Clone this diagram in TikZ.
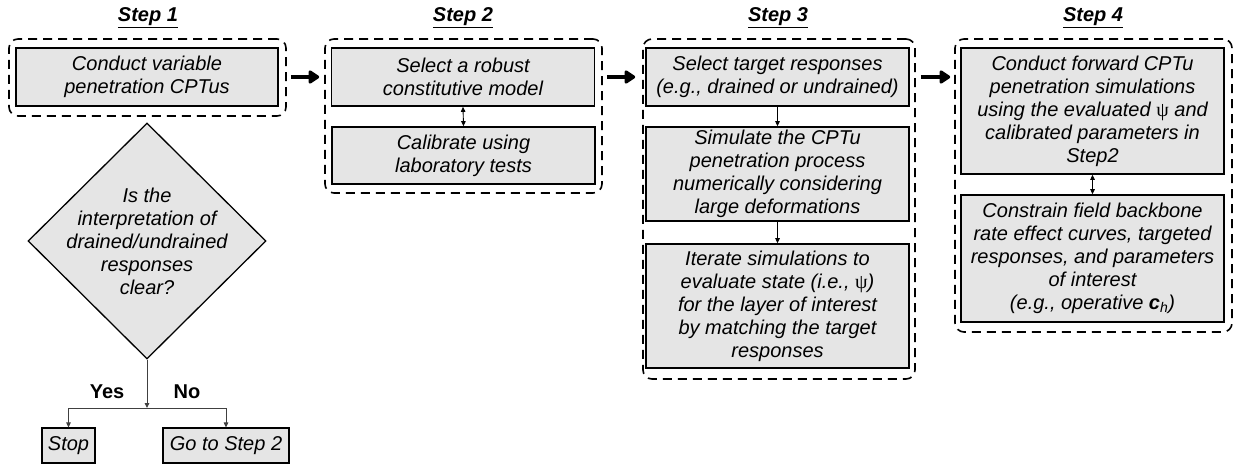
\documentclass[tikz,border=0pt]{standalone}
\usepackage{fontspec}
\setmainfont{Liberation Sans}
\newfontfamily\grk{Liberation Serif}
\usetikzlibrary{arrows.meta,shapes.geometric,calc}
\newcommand{\psisym}{{\grk\upshape ψ}}
\begin{document}
\begin{tikzpicture}[x=1pt,y=-1pt,
  txt/.style={font=\itshape\fontsize{20}{23}\selectfont, align=center},
  stepbox/.style={txt, draw, line width=1.6pt, fill=black!10, inner sep=0pt, minimum width=263pt},
  endbox/.style={txt, draw, line width=1.1pt, fill=black!10, inner sep=0pt, minimum height=35pt},
  frame/.style={draw, dash pattern=on 9pt off 6pt, line width=1.6pt, rounded corners=9pt, inner sep=0pt},
  steptitle/.style={font=\bfseries\itshape\fontsize{20}{23}\selectfont},
  answer/.style={font=\bfseries\fontsize{20}{23}\selectfont},
  flow/.style={draw=black!75, line width=0.9pt, -{Triangle[length=5pt,width=4.5pt]}},
  twoway/.style={line width=0.9pt, {Triangle[length=5pt,width=4.5pt]}-{Triangle[length=5pt,width=4.5pt]}},
  bigarrow/.style={line width=4.5pt, -{Triangle[length=12pt,width=15pt,round]}}
]
\useasboundingbox (0,0) rectangle (1233,465);

% step titles
\node[steptitle] (t1) at (148,18) {\underline{Step 1}};
\node[steptitle] (t2) at (463,18) {\underline{Step 2}};
\node[steptitle] (t3) at (778,18) {\underline{Step 3}};
\node[steptitle] (t4) at (1093,18) {\underline{Step 4}};

% dashed frames around each step
\node[frame, minimum width=277pt, minimum height=77pt] (f1) at (147.5,77.5) {};
\node[frame, minimum width=277pt, minimum height=154pt] (f2) at (463.5,116) {};
\node[frame, minimum width=272pt, minimum height=340pt] (f3) at (779,209) {};
\node[frame, minimum width=277pt, minimum height=293pt] (f4) at (1093.5,185.5) {};

% Step 1
\node[stepbox, minimum width=262pt, minimum height=58pt] (s1) at (147,77) {Conduct variable\\penetration CPTus};
\node[diamond, draw, fill=black!10, line width=1.3pt, inner sep=0pt,
      minimum width=238pt, minimum height=236pt] (q) at (147,241) {};
\node[txt] (qt) at (147,241) {Is the\\interpretation of\\drained/undrained\\responses\\clear?};
\coordinate (j) at (147,408);
\node[endbox, minimum width=53pt] (stop) at (68.5,445.5) {Stop};
\node[endbox, minimum width=126pt] (go) at (226,445.5) {Go to Step 2};
\node[answer] (yes) at (107,392) {Yes};
\node[answer] (no) at (187,392) {No};
\draw[flow] (q.south) -- (j);
\draw[flow] (j) -| (stop.north);
\draw[flow] (j) -| (go.north);

% Step 2
\node[stepbox, minimum height=58pt] (s2a) at (463,77) {Select a robust\\constitutive model};
\node[stepbox, minimum height=57pt] (s2b) at (463.5,155.5) {Calibrate using\\laboratory tests};
\draw[twoway] (s2a.south) -- (s2b.north);

% Step 3
\node[stepbox, minimum height=58pt] (s3a) at (777.5,77) {Select target responses\\(e.g., drained or undrained)};
\node[stepbox, minimum height=94pt] (s3b) at (777.5,174) {Simulate the CPTu\\penetration process\\numerically considering\\large deformations};
\node[stepbox, minimum height=124pt] (s3c) at (777.5,306) {Iterate simulations to\\evaluate state (i.e., \psisym)\\for the layer of interest\\by matching the target\\responses};
\draw[flow, draw=black] (s3a.south) -- (s3b.north);
\draw[flow, draw=black] (s3b.south) -- (s3c.north);

% Step 4
\node[stepbox, minimum height=126pt] (s4a) at (1092.5,111) {Conduct forward CPTu\\penetration simulations\\using the evaluated \psisym{} and\\calibrated parameters in\\Step2};
\node[stepbox, minimum height=127pt] (s4b) at (1092.5,258.5) {Constrain field backbone\\rate effect curves, targeted\\responses, and parameters\\of interest\\(e.g., operative \textbf{c}\textsubscript{h})};
\draw[twoway] (s4a.south) -- (s4b.north);

% arrows between steps
\draw[bigarrow] ($(f1.east |- s1.east)+(4,0)$) -- ($(f2.west |- s1.east)+(-5,0)$);
\draw[bigarrow] ($(f2.east |- s1.east)+(4,0)$) -- ($(f3.west |- s1.east)+(-7,0)$);
\draw[bigarrow] ($(f3.east |- s1.east)+(5,0)$) -- ($(f4.west |- s1.east)+(-4,0)$);
\end{tikzpicture}
\end{document}
